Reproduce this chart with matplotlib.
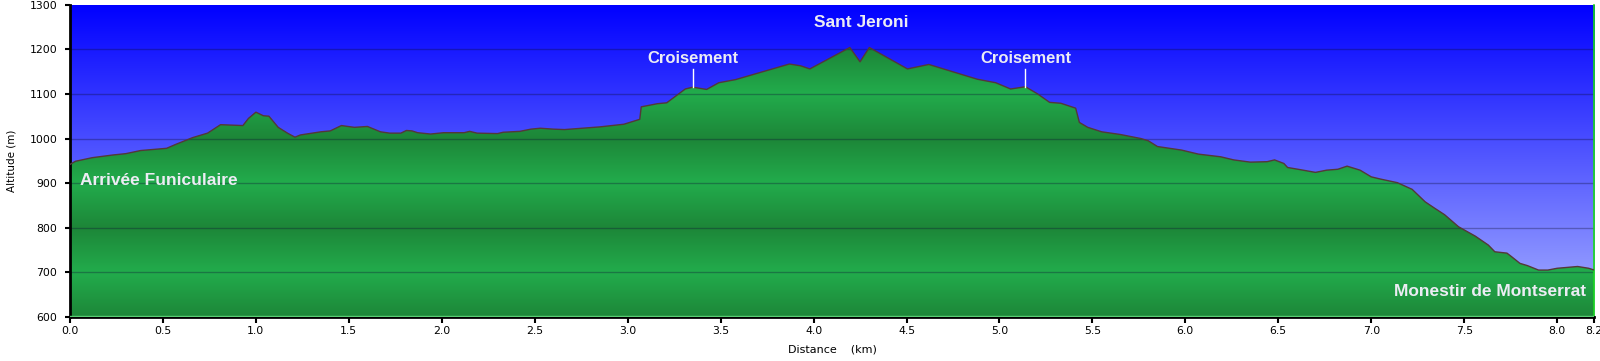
import numpy as np
import matplotlib
matplotlib.use("Agg")
import matplotlib.pyplot as plt
from matplotlib.patches import Polygon

# ---------------- data ----------------
distance_km = [0.0, 0.03, 0.12, 0.23, 0.30, 0.38, 0.52, 0.57, 0.66, 0.74, 0.81, 0.93, 0.96,
               1.00, 1.04, 1.07, 1.12, 1.17, 1.21, 1.24, 1.35, 1.40, 1.46, 1.53, 1.60, 1.67,
               1.72, 1.78, 1.81, 1.84, 1.87, 1.94, 2.01, 2.12, 2.15, 2.19, 2.30, 2.33, 2.42,
               2.48, 2.53, 2.60, 2.66, 2.85, 2.98, 3.065, 3.073, 3.16, 3.21, 3.31, 3.35, 3.425,
               3.49, 3.58, 3.87, 3.93, 3.98, 4.195, 4.25, 4.30, 4.505, 4.62, 4.88, 4.98, 5.06,
               5.14, 5.205, 5.27, 5.33, 5.41, 5.43, 5.475, 5.55, 5.65, 5.76, 5.80, 5.85, 5.98,
               6.07, 6.19, 6.26, 6.35, 6.44, 6.48, 6.53, 6.55, 6.62, 6.70, 6.76, 6.82, 6.87,
               6.94, 7.00, 7.05, 7.14, 7.22, 7.29, 7.34, 7.395, 7.47, 7.56, 7.63, 7.665, 7.73,
               7.755, 7.80, 7.84, 7.90, 7.95, 8.00, 8.11, 8.17, 8.20]
altitude_m = [942, 949, 957, 963, 966, 973, 978, 987, 1002, 1012, 1031, 1029, 1045,
              1059, 1051, 1050, 1025, 1012, 1003, 1008, 1015, 1017, 1029, 1025, 1027, 1015,
              1012, 1012, 1018, 1017, 1013, 1010, 1013, 1013, 1016, 1012, 1011, 1014, 1016,
              1021, 1023, 1021, 1020, 1026, 1032, 1043, 1071, 1078, 1080, 1111, 1115, 1110,
              1125, 1132, 1167, 1163, 1156, 1204, 1172, 1204, 1156, 1166, 1133, 1125, 1111,
              1116, 1100, 1081, 1079, 1068, 1036, 1025, 1015, 1009, 1000, 995, 982, 974,
              965, 959, 952, 947, 948, 952, 944, 935, 930, 924, 929, 931, 938,
              929, 914, 909, 901, 886, 858, 844, 829, 802, 781, 761, 746, 743,
              735, 720, 715, 705, 705, 709, 713, 709, 705]

x_ticks = [0.0, 0.5, 1.0, 1.5, 2.0, 2.5, 3.0, 3.5, 4.0, 4.5, 5.0, 5.5, 6.0, 6.5, 7.0, 7.5, 8.0, 8.2]
x_tick_labels = ["0.0", "0.5", "1.0", "1.5", "2.0", "2.5", "3.0", "3.5", "4.0", "4.5",
                 "5.0", "5.5", "6.0", "6.5", "7.0", "7.5", "8.0", "8.2"]
y_ticks = [600, 700, 800, 900, 1000, 1100, 1200, 1300]

# waypoint labels: (text, x km, y m, ha)
place_labels = [("Sant Jeroni", 4.255, 1261, "center"),
                ("Arrivée Funiculaire", 0.054, 905, "left"),
                ("Monestir de Montserrat", 8.156, 656, "right")]
crossings_km = [3.35, 5.14]
crossings_alt = [1115, 1116]
crossing_label = "Croisement"

X_MIN, X_MAX = 0.0, 8.2
Y_MIN, Y_MAX = 600, 1300

# ---------------- figure ----------------
fig = plt.figure(figsize=(16, 3.61), dpi=100)
ax = fig.add_axes([0.04375, 0.12216, 0.95269, 0.86482])
ax.set_xlim(X_MIN, X_MAX)
ax.set_ylim(Y_MIN, Y_MAX)

# sky gradient
n = 256
t = np.linspace(0, 1, n)[:, None]
top = np.array([0, 0, 255]) / 255.0
bot = np.array([168, 178, 255]) / 255.0
sky = (top * (1 - t) + bot * t).reshape(n, 1, 3)
ax.imshow(sky, extent=(X_MIN, X_MAX, Y_MIN, Y_MAX), origin="upper",
          aspect="auto", zorder=0, interpolation="bilinear")

# green terrain gradient (triangular banding every 100 m)
alts = np.linspace(Y_MAX, Y_MIN, 700)
phase = np.abs(((alts - 600) / 200.0) % 1.0 - 0.5) * 2  # 1 at even hundreds, 0 at odd
light = np.array([34, 172, 76]) / 255.0
dark = np.array([29, 134, 56]) / 255.0
green = (light * (1 - phase[:, None]) + dark * phase[:, None]).reshape(-1, 1, 3)
im = ax.imshow(green, extent=(X_MIN, X_MAX, Y_MIN, Y_MAX), origin="upper",
               aspect="auto", zorder=1, interpolation="bilinear")
verts = [(distance_km[0], Y_MIN)] + list(zip(distance_km, altitude_m)) + [(distance_km[-1], Y_MIN)]
poly = Polygon(verts, closed=True, facecolor="none", edgecolor="none", transform=ax.transData)
ax.add_patch(poly)
im.set_clip_path(poly)

# grid lines
for yv in y_ticks[1:-1]:
    ax.axhline(yv, color=(0.05, 0.05, 0.2), alpha=0.33, lw=1.0, zorder=2)

# profile outline
ax.plot(distance_km, altitude_m, color=(0.33, 0.22, 0.22), lw=1.0, zorder=3)

# light green bottom edge line
ax.axhline(Y_MIN + 1.5, color=(0.35, 0.8, 0.45), lw=1.0, zorder=3)

TEXT_COLOR = "#ececf4"
# crossing markers
for xk, ak in zip(crossings_km, crossings_alt):
    ax.plot([xk, xk], [ak, 1156], color="white", lw=1.0, zorder=4)
    ax.text(xk, 1180, crossing_label, ha="center", va="center", color=TEXT_COLOR,
            fontsize=12, fontweight="bold", family="Liberation Sans", zorder=5)

for txt, xk, yk, ha in place_labels:
    ax.text(xk, yk, txt, ha=ha, va="center", color=TEXT_COLOR, fontsize=12.5,
            fontweight="bold", family="Liberation Sans", zorder=5)

# axes styling
ax.set_xticks(x_ticks)
ax.set_xticklabels(x_tick_labels)
ax.set_yticks(y_ticks)
ax.set_yticklabels([str(v) for v in y_ticks])
ax.tick_params(axis="y", direction="out", length=3.6, width=1.5, labelsize=7.8, pad=5.5)
ax.tick_params(axis="x", direction="out", length=4.5, width=1.5, labelsize=7.8, pad=2)
ax.spines["top"].set_visible(False)
ax.spines["left"].set_linewidth(2)
ax.spines["bottom"].set_linewidth(2)
ax.spines["right"].set_color((0.1, 0.85, 0.1))
ax.spines["right"].set_linewidth(1.2)
ax.set_xlabel("Distance    (km)", fontsize=8)
ax.xaxis.set_label_coords(0.5, -0.088)
ax.set_ylabel("Altitude (m)", fontsize=7.5)
ax.yaxis.set_label_coords(-0.035, 0.5)

fig.savefig("out.png", dpi=100)
